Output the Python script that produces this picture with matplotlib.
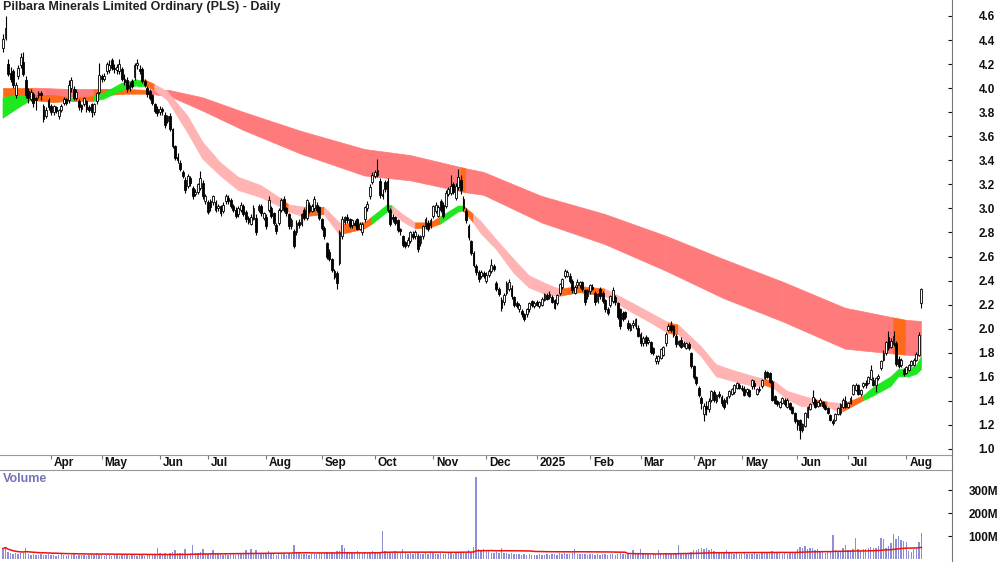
import numpy as np
import pandas as pd
import matplotlib
matplotlib.use("Agg")
import matplotlib.pyplot as plt
import matplotlib.transforms as mtransforms
from matplotlib.lines import Line2D

plt.rcParams.update({
    "font.family": ["Liberation Sans Narrow", "Liberation Sans", "DejaVu Sans"],
    "font.weight": "bold",
    "font.size": 9,
})

TITLE = "Pilbara Minerals Limited Ordinary (PLS) - Daily"

# trading calendar (ASX holidays skipped)
START = "2024-03-04"
ASX_HOLIDAYS = ["2024-03-29", "2024-04-01", "2024-04-25", "2024-06-10",
                "2024-12-25", "2024-12-26", "2025-01-01", "2025-01-27",
                "2025-04-18", "2025-04-21", "2025-04-25", "2025-06-09"]

# daily candles, one row per month
opens = [
    4.33, 4.42, 4.20, 4.13, 4.14, 3.94, 4.10, 4.19, 4.22, 4.07, 3.98, 3.91, 3.95, 3.92, 3.94, 3.96, 3.85, 3.77, 3.90,
    3.85, 3.80, 3.84, 3.77, 3.82, 3.88, 3.91, 3.90, 4.00, 3.99, 3.92, 3.89, 3.86, 3.87, 3.89, 3.84, 3.87, 3.80, 3.89, 3.97,
    4.10, 4.08, 4.14, 4.15, 4.23, 4.17, 4.15, 4.14, 4.16, 4.08, 4.07, 4.00, 4.06, 4.09, 4.19, 4.16, 4.16, 4.06, 4.00, 3.98, 3.94, 3.87, 3.83,
    3.80, 3.83, 3.78, 3.73, 3.77, 3.66, 3.52, 3.43, 3.38, 3.30, 3.24, 3.19, 3.25, 3.17, 3.12, 3.14, 3.17, 3.21, 3.06,
    3.05, 3.06, 3.05, 3.05, 3.00, 3.02, 2.98, 3.06, 3.09, 3.07, 3.02, 2.99, 2.95, 2.99, 3.02, 2.97, 2.92, 2.87, 2.91, 2.92, 2.99, 3.02, 2.92,
    2.93, 2.99, 3.00, 2.96, 2.86, 2.88, 2.99, 3.08, 3.00, 2.95, 2.85, 2.81, 2.80, 2.89, 2.87, 2.99, 2.92, 3.03, 2.98, 3.00, 3.03, 3.01,
    2.91, 2.84, 2.71, 2.64, 2.58, 2.48, 2.46, 2.55, 2.77, 2.89, 2.93, 2.91, 2.86, 2.88, 2.91, 2.83, 2.80, 2.91, 3.00, 3.10, 3.22,
    3.27, 3.28, 3.23, 3.12, 3.22, 3.23, 2.99, 2.93, 2.93, 2.90, 2.83, 2.77, 2.72, 2.70, 2.73, 2.79, 2.77, 2.77, 2.71, 2.77, 2.85, 2.88, 2.86,
    2.94, 2.98, 2.94, 3.06, 3.03, 3.02, 3.12, 3.13, 3.20, 3.09, 3.18, 3.24, 3.08, 2.98, 2.85, 2.73, 2.63, 2.52, 2.47, 2.44, 2.46,
    2.40, 2.45, 2.48, 2.52, 2.38, 2.33, 2.24, 2.22, 2.30, 2.33, 2.34, 2.26, 2.21, 2.16, 2.15, 2.12, 2.12, 2.16, 2.23, 2.19,
    2.22, 2.19, 2.20, 2.24, 2.28, 2.26, 2.26, 2.24, 2.21, 2.30, 2.35, 2.44, 2.44, 2.44, 2.40, 2.30, 2.36, 2.36, 2.39, 2.32, 2.27,
    2.31, 2.35, 2.30, 2.23, 2.33, 2.30, 2.24, 2.16, 2.20, 2.23, 2.26, 2.21, 2.16, 2.13, 2.14, 2.05, 1.99, 2.03, 2.02, 2.01,
    1.96, 1.88, 1.93, 1.89, 1.89, 1.84, 1.73, 1.73, 1.76, 1.78, 1.88, 1.99, 2.03, 2.02, 1.94, 1.87, 1.91, 1.86, 1.84, 1.87, 1.80,
    1.69, 1.60, 1.51, 1.42, 1.29, 1.36, 1.33, 1.41, 1.47, 1.40, 1.46, 1.43, 1.41, 1.39, 1.44, 1.46, 1.47, 1.51, 1.53,
    1.51, 1.50, 1.47, 1.49, 1.52, 1.55, 1.46, 1.50, 1.52, 1.59, 1.64, 1.63, 1.56, 1.44, 1.40, 1.35, 1.38, 1.41, 1.35, 1.38, 1.35, 1.30,
    1.24, 1.24, 1.16, 1.19, 1.27, 1.33, 1.39, 1.41, 1.36, 1.38, 1.39, 1.36, 1.34, 1.28, 1.23, 1.24, 1.29, 1.30, 1.35, 1.40,
    1.35, 1.38, 1.46, 1.49, 1.53, 1.46, 1.52, 1.55, 1.55, 1.58, 1.57, 1.53, 1.59, 1.67, 1.74, 1.80, 1.93, 1.85, 1.87, 1.88, 1.75, 1.70, 1.66,
    1.63, 1.66, 1.70, 1.70, 1.74, 1.78, 2.21,
]
highs = [
    4.45, 4.60, 4.24, 4.18, 4.16, 4.05, 4.19, 4.29, 4.30, 4.10, 4.00, 3.99, 3.97, 3.93, 3.98, 3.98, 3.87, 3.84, 3.92,
    3.87, 3.86, 3.85, 3.83, 3.87, 3.93, 3.92, 4.07, 4.09, 4.02, 3.99, 3.91, 3.87, 3.93, 3.90, 3.86, 3.88, 3.88, 3.97, 4.21,
    4.12, 4.13, 4.22, 4.23, 4.25, 4.20, 4.20, 4.24, 4.18, 4.12, 4.09, 4.05, 4.08, 4.21, 4.24, 4.19, 4.18, 4.08, 4.02, 3.99, 3.95, 3.88, 3.85,
    3.85, 3.84, 3.80, 3.78, 3.79, 3.67, 3.53, 3.46, 3.40, 3.32, 3.26, 3.29, 3.27, 3.19, 3.16, 3.21, 3.31, 3.24, 3.12,
    3.07, 3.08, 3.11, 3.07, 3.04, 3.03, 3.05, 3.12, 3.11, 3.09, 3.04, 3.01, 3.02, 3.05, 3.04, 2.99, 2.94, 2.95, 3.03, 2.95, 3.04, 3.04, 2.97,
    2.95, 3.10, 3.02, 2.97, 2.88, 3.00, 3.09, 3.10, 3.01, 2.96, 2.92, 2.83, 2.90, 2.91, 2.96, 3.00, 3.08, 3.05, 3.04, 3.10, 3.05, 3.02,
    2.92, 2.85, 2.72, 2.66, 2.59, 2.50, 2.48, 2.82, 2.94, 2.94, 2.95, 2.92, 2.91, 2.90, 2.92, 2.89, 2.89, 3.02, 3.06, 3.20, 3.30,
    3.32, 3.41, 3.25, 3.16, 3.24, 3.25, 3.00, 2.95, 2.94, 2.91, 2.84, 2.78, 2.73, 2.76, 2.81, 2.81, 2.82, 2.79, 2.78, 2.86, 2.93, 2.90, 2.92,
    3.03, 3.05, 3.03, 3.08, 3.05, 3.15, 3.18, 3.28, 3.22, 3.21, 3.33, 3.28, 3.10, 3.00, 2.87, 2.74, 2.65, 2.54, 2.49, 2.49, 2.48,
    2.47, 2.50, 2.58, 2.54, 2.40, 2.35, 2.26, 2.30, 2.40, 2.41, 2.36, 2.27, 2.23, 2.21, 2.16, 2.13, 2.17, 2.22, 2.24, 2.23,
    2.24, 2.23, 2.26, 2.30, 2.30, 2.31, 2.28, 2.25, 2.29, 2.38, 2.42, 2.50, 2.49, 2.46, 2.41, 2.36, 2.41, 2.40, 2.40, 2.33, 2.33,
    2.37, 2.37, 2.31, 2.30, 2.35, 2.31, 2.25, 2.18, 2.28, 2.35, 2.28, 2.22, 2.17, 2.15, 2.15, 2.07, 2.05, 2.07, 2.09, 2.03,
    1.97, 1.94, 1.95, 1.93, 1.90, 1.85, 1.78, 1.78, 1.84, 1.86, 1.97, 2.04, 2.06, 2.03, 1.96, 1.91, 1.93, 1.90, 1.89, 1.89, 1.81,
    1.70, 1.61, 1.52, 1.44, 1.38, 1.40, 1.42, 1.49, 1.49, 1.46, 1.48, 1.45, 1.42, 1.44, 1.49, 1.51, 1.54, 1.56, 1.55,
    1.53, 1.52, 1.51, 1.50, 1.58, 1.57, 1.51, 1.52, 1.58, 1.66, 1.65, 1.64, 1.57, 1.45, 1.41, 1.40, 1.43, 1.42, 1.42, 1.39, 1.36, 1.31,
    1.25, 1.25, 1.22, 1.31, 1.36, 1.38, 1.49, 1.42, 1.40, 1.42, 1.40, 1.37, 1.35, 1.29, 1.25, 1.30, 1.35, 1.38, 1.42, 1.44,
    1.39, 1.44, 1.54, 1.55, 1.54, 1.50, 1.56, 1.57, 1.61, 1.70, 1.60, 1.60, 1.62, 1.74, 1.82, 1.90, 1.98, 1.92, 1.98, 1.90, 1.77, 1.76, 1.67,
    1.69, 1.71, 1.74, 1.76, 1.81, 1.97, 2.34,
]
lows = [
    4.30, 4.40, 4.10, 4.05, 4.00, 3.92, 4.08, 4.17, 4.10, 3.92, 3.88, 3.89, 3.84, 3.82, 3.92, 3.90, 3.72, 3.75, 3.82,
    3.78, 3.78, 3.79, 3.74, 3.80, 3.86, 3.86, 3.88, 3.97, 3.90, 3.90, 3.82, 3.80, 3.85, 3.80, 3.80, 3.76, 3.78, 3.87, 3.95,
    4.05, 4.06, 4.12, 4.13, 4.15, 4.13, 4.12, 4.12, 4.06, 4.03, 3.97, 3.98, 4.00, 4.07, 4.16, 4.12, 4.04, 4.01, 3.93, 3.90, 3.86, 3.79, 3.77,
    3.78, 3.78, 3.67, 3.71, 3.64, 3.50, 3.40, 3.38, 3.31, 3.25, 3.13, 3.17, 3.19, 3.08, 3.10, 3.12, 3.15, 3.08, 3.04,
    2.95, 2.98, 3.03, 2.97, 2.98, 2.94, 2.96, 3.04, 3.04, 3.00, 2.97, 2.92, 2.93, 2.97, 2.94, 2.89, 2.87, 2.86, 2.90, 2.78, 2.97, 2.94, 2.90,
    2.83, 2.97, 2.92, 2.86, 2.79, 2.86, 2.97, 2.97, 2.94, 2.83, 2.83, 2.67, 2.78, 2.84, 2.85, 2.90, 2.90, 2.96, 2.97, 2.98, 2.97, 2.90,
    2.82, 2.75, 2.58, 2.56, 2.47, 2.41, 2.33, 2.53, 2.75, 2.87, 2.88, 2.84, 2.84, 2.85, 2.82, 2.82, 2.78, 2.89, 2.98, 3.08, 3.20,
    3.25, 3.26, 3.09, 3.08, 3.14, 2.97, 2.85, 2.89, 2.86, 2.80, 2.78, 2.68, 2.67, 2.68, 2.71, 2.75, 2.75, 2.64, 2.69, 2.75, 2.83, 2.81, 2.84,
    2.92, 2.96, 2.93, 2.97, 2.92, 3.00, 3.10, 3.11, 3.12, 3.07, 3.15, 3.12, 2.98, 2.88, 2.74, 2.61, 2.51, 2.45, 2.39, 2.42, 2.42,
    2.38, 2.43, 2.46, 2.48, 2.31, 2.27, 2.15, 2.20, 2.28, 2.31, 2.25, 2.18, 2.17, 2.14, 2.10, 2.06, 2.10, 2.14, 2.18, 2.17,
    2.19, 2.17, 2.19, 2.23, 2.24, 2.25, 2.21, 2.16, 2.20, 2.28, 2.33, 2.42, 2.43, 2.38, 2.30, 2.29, 2.34, 2.34, 2.31, 2.20, 2.25,
    2.29, 2.32, 2.20, 2.21, 2.25, 2.21, 2.14, 2.11, 2.18, 2.21, 2.20, 2.08, 2.00, 2.06, 2.08, 1.99, 1.98, 2.01, 2.00, 1.93,
    1.86, 1.86, 1.86, 1.87, 1.79, 1.78, 1.71, 1.71, 1.75, 1.77, 1.86, 1.98, 1.97, 1.93, 1.85, 1.86, 1.84, 1.85, 1.83, 1.82, 1.67,
    1.58, 1.53, 1.43, 1.33, 1.23, 1.28, 1.31, 1.39, 1.39, 1.38, 1.42, 1.36, 1.33, 1.37, 1.42, 1.45, 1.46, 1.50, 1.50,
    1.48, 1.44, 1.45, 1.43, 1.50, 1.50, 1.45, 1.47, 1.51, 1.58, 1.59, 1.55, 1.40, 1.37, 1.36, 1.34, 1.37, 1.36, 1.34, 1.32, 1.29, 1.22,
    1.16, 1.08, 1.14, 1.18, 1.26, 1.32, 1.37, 1.34, 1.35, 1.36, 1.34, 1.32, 1.29, 1.23, 1.20, 1.23, 1.28, 1.28, 1.34, 1.34,
    1.34, 1.37, 1.45, 1.48, 1.45, 1.44, 1.51, 1.51, 1.54, 1.57, 1.52, 1.47, 1.57, 1.66, 1.73, 1.78, 1.82, 1.84, 1.86, 1.69, 1.67, 1.68, 1.61,
    1.62, 1.65, 1.69, 1.69, 1.73, 1.77, 2.17,
]
closes = [
    4.41, 4.50, 4.12, 4.08, 4.03, 4.03, 4.17, 4.26, 4.12, 3.94, 3.92, 3.97, 3.88, 3.90, 3.96, 3.94, 3.74, 3.82, 3.84,
    3.80, 3.85, 3.81, 3.82, 3.85, 3.91, 3.88, 4.03, 4.07, 3.92, 3.97, 3.84, 3.83, 3.92, 3.83, 3.82, 3.80, 3.87, 3.96, 4.11,
    4.08, 4.10, 4.20, 4.19, 4.17, 4.16, 4.18, 4.20, 4.08, 4.05, 3.99, 4.03, 4.02, 4.19, 4.21, 4.14, 4.06, 4.03, 3.95, 3.92, 3.88, 3.81, 3.79,
    3.83, 3.81, 3.69, 3.77, 3.66, 3.52, 3.42, 3.40, 3.33, 3.27, 3.15, 3.27, 3.21, 3.10, 3.14, 3.20, 3.25, 3.10, 3.10,
    2.97, 3.01, 3.10, 2.99, 3.02, 2.96, 3.03, 3.10, 3.06, 3.02, 2.99, 2.94, 3.00, 3.03, 2.95, 2.91, 2.89, 2.93, 3.00, 2.80, 3.02, 2.96, 2.96,
    2.85, 3.07, 2.94, 2.88, 2.81, 2.99, 3.07, 2.99, 2.96, 2.85, 2.90, 2.69, 2.88, 2.86, 2.95, 2.92, 3.07, 2.98, 3.02, 3.08, 2.99, 2.92,
    2.84, 2.77, 2.60, 2.58, 2.49, 2.43, 2.38, 2.80, 2.91, 2.93, 2.90, 2.85, 2.90, 2.86, 2.83, 2.87, 2.87, 3.01, 3.04, 3.18, 3.28,
    3.30, 3.32, 3.11, 3.10, 3.16, 2.99, 2.87, 2.91, 2.88, 2.82, 2.81, 2.70, 2.69, 2.74, 2.80, 2.76, 2.80, 2.66, 2.77, 2.85, 2.91, 2.83, 2.90,
    3.02, 3.03, 3.01, 2.99, 2.94, 3.13, 3.16, 3.19, 3.14, 3.19, 3.26, 3.15, 3.00, 2.90, 2.76, 2.63, 2.53, 2.47, 2.41, 2.47, 2.44,
    2.45, 2.48, 2.53, 2.50, 2.33, 2.29, 2.17, 2.28, 2.38, 2.39, 2.27, 2.20, 2.19, 2.20, 2.12, 2.08, 2.16, 2.21, 2.20, 2.21,
    2.20, 2.22, 2.25, 2.29, 2.25, 2.29, 2.22, 2.17, 2.28, 2.37, 2.41, 2.48, 2.47, 2.40, 2.32, 2.35, 2.39, 2.39, 2.33, 2.22, 2.32,
    2.36, 2.33, 2.22, 2.29, 2.27, 2.23, 2.16, 2.13, 2.27, 2.32, 2.22, 2.10, 2.02, 2.08, 2.10, 2.01, 2.03, 2.05, 2.08, 1.94,
    1.88, 1.92, 1.88, 1.91, 1.81, 1.80, 1.76, 1.77, 1.83, 1.85, 1.96, 2.02, 1.99, 1.95, 1.87, 1.90, 1.85, 1.88, 1.88, 1.84, 1.69,
    1.60, 1.55, 1.45, 1.38, 1.36, 1.33, 1.40, 1.48, 1.41, 1.45, 1.44, 1.38, 1.35, 1.43, 1.48, 1.50, 1.53, 1.55, 1.51,
    1.50, 1.45, 1.50, 1.44, 1.57, 1.52, 1.50, 1.49, 1.57, 1.64, 1.60, 1.56, 1.41, 1.38, 1.37, 1.39, 1.42, 1.37, 1.41, 1.33, 1.30, 1.23,
    1.20, 1.16, 1.21, 1.30, 1.35, 1.37, 1.43, 1.35, 1.39, 1.41, 1.36, 1.33, 1.30, 1.24, 1.22, 1.29, 1.34, 1.37, 1.41, 1.35,
    1.38, 1.42, 1.53, 1.53, 1.46, 1.49, 1.55, 1.53, 1.60, 1.66, 1.53, 1.59, 1.61, 1.73, 1.80, 1.89, 1.84, 1.90, 1.94, 1.71, 1.69, 1.74, 1.62,
    1.68, 1.70, 1.73, 1.74, 1.79, 1.95, 2.33,
]
# volume in millions of shares
volumes = [
    46, 53, 30, 28, 22, 25, 20, 24, 27, 46, 22, 18, 20, 17, 19, 21, 16, 18, 20,
    17, 19, 15, 18, 20, 16, 14, 18, 17, 21, 15, 19, 16, 18, 14, 17, 20, 16, 24, 19,
    17, 15, 18, 16, 14, 19, 17, 15, 18, 20, 16, 14, 17, 19, 15, 18, 16, 14, 17, 20, 18, 22, 48,
    24, 21, 25, 22, 28, 30, 40, 26, 24, 27, 45, 23, 25, 61, 28, 24, 30, 45, 26,
    22, 25, 40, 24, 20, 22, 18, 21, 19, 23, 20, 18, 22, 24, 21, 38, 22, 45, 25, 38, 23, 20, 22,
    21, 35, 24, 20, 18, 22, 25, 21, 19, 24, 22, 61, 30, 24, 21, 20, 23, 19, 21, 22, 20, 24,
    26, 28, 32, 27, 30, 26, 33, 35, 59, 50, 30, 26, 24, 28, 35, 27, 25, 30, 28, 26, 36,
    32, 30, 28, 122, 34, 30, 28, 26, 35, 27, 24, 42, 26, 23, 25, 22, 24, 26, 23, 21, 24, 22, 33,
    25, 23, 22, 24, 21, 23, 26, 24, 22, 25, 28, 26, 24, 27, 40, 30, 52, 355, 45, 40, 42,
    38, 40, 28, 25, 30, 27, 50, 26, 24, 22, 25, 23, 20, 22, 19, 21, 18, 20, 17, 19,
    18, 20, 16, 19, 21, 18, 20, 22, 19, 24, 21, 26, 23, 21, 24, 45, 22, 20, 23, 21, 19,
    20, 22, 19, 21, 18, 22, 20, 17, 21, 23, 19, 22, 24, 21, 20, 22, 19, 40, 25, 22,
    42, 24, 20, 22, 19, 21, 23, 40, 24, 26, 28, 25, 23, 22, 26, 59, 27, 24, 22, 25, 30,
    40, 38, 45, 50, 42, 48, 40, 44, 35, 28, 26, 30, 27, 40, 26, 24, 22, 25, 23,
    21, 24, 22, 20, 23, 25, 21, 20, 24, 30, 27, 25, 33, 28, 26, 24, 22, 25, 23, 26, 28, 30,
    45, 52, 48, 55, 42, 47, 50, 38, 45, 32, 30, 28, 33, 35, 104, 38, 34, 36, 50, 59,
    40, 38, 45, 93, 42, 40, 44, 45, 48, 52, 46, 50, 55, 90, 87, 50, 55, 70, 108, 85, 100, 82, 78,
    76, 35, 30, 42, 47, 75, 113,
]

# ribbon edges (day number, top, bottom, colour state)
long_day = [0, 12, 25, 36, 48, 58, 66, 79, 95, 118, 143, 161, 181, 183, 190, 213, 238, 262, 285, 308, 333, 352, 357, 363]
long_top = [4.00, 4.00, 3.99, 3.99, 3.99, 3.98, 3.98, 3.92, 3.80, 3.64, 3.49, 3.44, 3.34, 3.33, 3.30, 3.10, 2.95, 2.77,
            2.575, 2.39, 2.17, 2.09, 2.07, 2.06]
long_bot = [3.93, 3.93, 3.92, 3.93, 3.95, 3.95, 3.93, 3.81, 3.65, 3.45, 3.27, 3.23, 3.14, 3.13, 3.11, 2.88, 2.70, 2.48,
            2.25, 2.06, 1.83, 1.79, 1.78, 1.77]
long_state = ["O", "R", "R", "O", "O", "R", "R", "R", "R", "R", "R", "R", "O", "R", "R", "R", "R", "R",
              "R", "R", "R", "O", "R", ""]

short_day = [0, 5, 11, 20, 26, 28, 36, 40, 47, 53, 56, 60, 65, 73, 79, 86, 93, 102, 110, 113,
             119, 127, 133, 135, 143, 146, 152, 154, 158, 163, 169, 173, 180, 182, 186, 189, 195, 202, 208, 215,
             220, 228, 238, 249, 256, 263, 267, 269, 276, 282, 289, 297, 301, 305, 310, 316, 321, 326, 330, 332,
             340, 344, 351, 354, 358, 361, 363]
short_top = [3.92, 3.94, 3.94, 3.94, 3.92, 3.92, 3.93, 3.96, 4.04, 4.07, 4.07, 4.03, 3.97, 3.77, 3.55, 3.38, 3.26, 3.19, 3.08, 3.03,
             3.01, 3.01, 2.88, 2.87, 2.88, 2.93, 3.03, 3.02, 2.95, 2.88, 2.88, 2.93, 3.02, 3.02, 2.95, 2.89, 2.74, 2.575, 2.44, 2.37,
             2.33, 2.35, 2.33, 2.21, 2.13, 2.05, 2.03, 1.99, 1.85, 1.70, 1.65, 1.60, 1.58, 1.56, 1.48, 1.44, 1.41, 1.39, 1.38, 1.37,
             1.44, 1.51, 1.60, 1.66, 1.67, 1.69, 1.77]
short_bot = [3.75, 3.82, 3.90, 3.88, 3.89, 3.89, 3.89, 3.91, 3.98, 4.02, 4.02, 3.98, 3.90, 3.63, 3.41, 3.27, 3.15, 3.09, 3.01, 2.97,
             2.93, 2.95, 2.78, 2.79, 2.83, 2.87, 2.97, 2.96, 2.89, 2.83, 2.84, 2.87, 2.97, 2.98, 2.88, 2.79, 2.66, 2.46, 2.34, 2.28,
             2.27, 2.30, 2.27, 2.13, 2.05, 1.96, 1.95, 1.91, 1.77, 1.60, 1.56, 1.52, 1.53, 1.50, 1.41, 1.35, 1.36, 1.35, 1.31, 1.31,
             1.40, 1.44, 1.52, 1.60, 1.60, 1.62, 1.66]
short_state = ["G", "G", "O", "O", "G", "O", "G", "G", "G", "G", "O", "P", "P", "P", "P", "P", "P", "P", "O", "P",
               "O", "P", "P", "O", "O", "G", "G", "P", "P", "O", "O", "G", "G", "O", "P", "P", "P", "P", "P", "P",
               "O", "O", "P", "P", "P", "O", "P", "P", "P", "P", "P", "P", "O", "P", "P", "P", "O", "P", "P", "O",
               "G", "G", "G", "G", "G", "G", ""]

LONG_COLORS = {"R": "#ff7b7b", "O": "#ff6a1a"}
SHORT_COLORS = {"G": "#1ee81e", "O": "#ff6a1a", "P": "#ffb3b3"}


def draw_ribbon(ax, days, top, bot, state, colors, z):
    for k in range(len(days) - 1):
        col = colors[state[k]]
        ax.fill([days[k], days[k + 1], days[k + 1], days[k]],
                [top[k], top[k + 1], bot[k + 1], bot[k]],
                color=col, lw=0.5, ec=col, zorder=z)


dates = pd.bdate_range(START, periods=len(closes), freq="C", holidays=ASX_HOLIDAYS)
o = np.array(opens)
h = np.array(highs)
l = np.array(lows)
c = np.array(closes)
v = np.array(volumes, dtype=float)
x = np.arange(len(c))
assert len(o) == len(h) == len(l) == len(c) == len(v)

fig = plt.figure(figsize=(10, 5.62), dpi=100)
ax = fig.add_axes([0, 1 - 455 / 562, 0.952, 455 / 562])
axv = fig.add_axes([0, 0, 0.952, 92 / 562])

# ribbons
draw_ribbon(ax, long_day, long_top, long_bot, long_state, LONG_COLORS, 1)
draw_ribbon(ax, short_day, short_top, short_bot, short_state, SHORT_COLORS, 2)

# candles
up = c >= o
ax.vlines(x, l, h, color="black", lw=0.8, zorder=3)
ax.bar(x[up], np.maximum(c - o, 0.004)[up], bottom=o[up], width=0.72,
       color="white", edgecolor="black", linewidth=0.6, zorder=4)
ax.bar(x[~up], (o - c)[~up], bottom=c[~up], width=0.72,
       color="black", edgecolor="black", linewidth=0.6, zorder=4)

xmin, xmax = -1.19, 375.1
ax.set_xlim(xmin, xmax)
ax.set_ylim(0.95, 4.733)
ax.yaxis.tick_right()
ax.set_yticks(np.round(np.arange(1.0, 4.61, 0.2), 1))
ax.yaxis.set_major_formatter(plt.FormatStrFormatter("%.1f"))
ax.tick_params(axis="y", direction="in", length=3, pad=19, labelsize=8.5, colors="#111111")
for s in ["left", "top"]:
    ax.spines[s].set_visible(False)
ax.spines["right"].set_color("#777777")
ax.spines["bottom"].set_color("#999999")

# month ticks and labels
month_pos = [i for i in range(1, len(dates)) if dates[i].month != dates[i - 1].month]
ax.set_xticks(month_pos)
ax.set_xticklabels([])
ax.tick_params(axis="x", direction="out", length=3, color="#777777")
lab_tr = mtransforms.offset_copy(ax.get_xaxis_transform(), fig=fig, x=3, y=-8, units="dots")
for i in month_pos:
    lab = str(dates[i].year) if dates[i].month == 1 else dates[i].strftime("%b")
    ax.text(i, 0, lab, transform=lab_tr, ha="left", va="center", fontsize=8.5, color="#111111")

# right axis line carried through the date strip
fig.add_artist(Line2D([0.952, 0.952], [92 / 562, 1 - 455 / 562], transform=fig.transFigure,
                      color="#777777", lw=0.8))

fig.text(0.003, 1 - 7 / 562, TITLE, ha="left", va="center", fontsize=9,
         color="#222222", family=["Liberation Sans", "DejaVu Sans"])

# volume panel
axv.bar(x, v, width=0.55, color="#8e8ed6", zorder=2)
vma = pd.Series(v).rolling(60, min_periods=1).mean()
axv.plot(x, vma, color="#ee1111", lw=1.1, zorder=3)
axv.set_xlim(xmin, xmax)
axv.set_ylim(-13, 387)
axv.yaxis.tick_right()
axv.set_yticks([100, 200, 300])
axv.set_yticklabels(["100M", "200M", "300M"])
axv.set_xticks([])
axv.tick_params(axis="y", direction="in", length=3, pad=12, labelsize=8.5, colors="#111111")
for s in ["left", "bottom"]:
    axv.spines[s].set_visible(False)
axv.spines["right"].set_color("#777777")
axv.spines["top"].set_color("#999999")
axv.text(0.003, 0.9, "Volume", transform=axv.transAxes, ha="left", va="center",
         fontsize=9, color="#7474b4", family=["Liberation Sans", "DejaVu Sans"])

fig.savefig("out.png", dpi=100, facecolor="white")
